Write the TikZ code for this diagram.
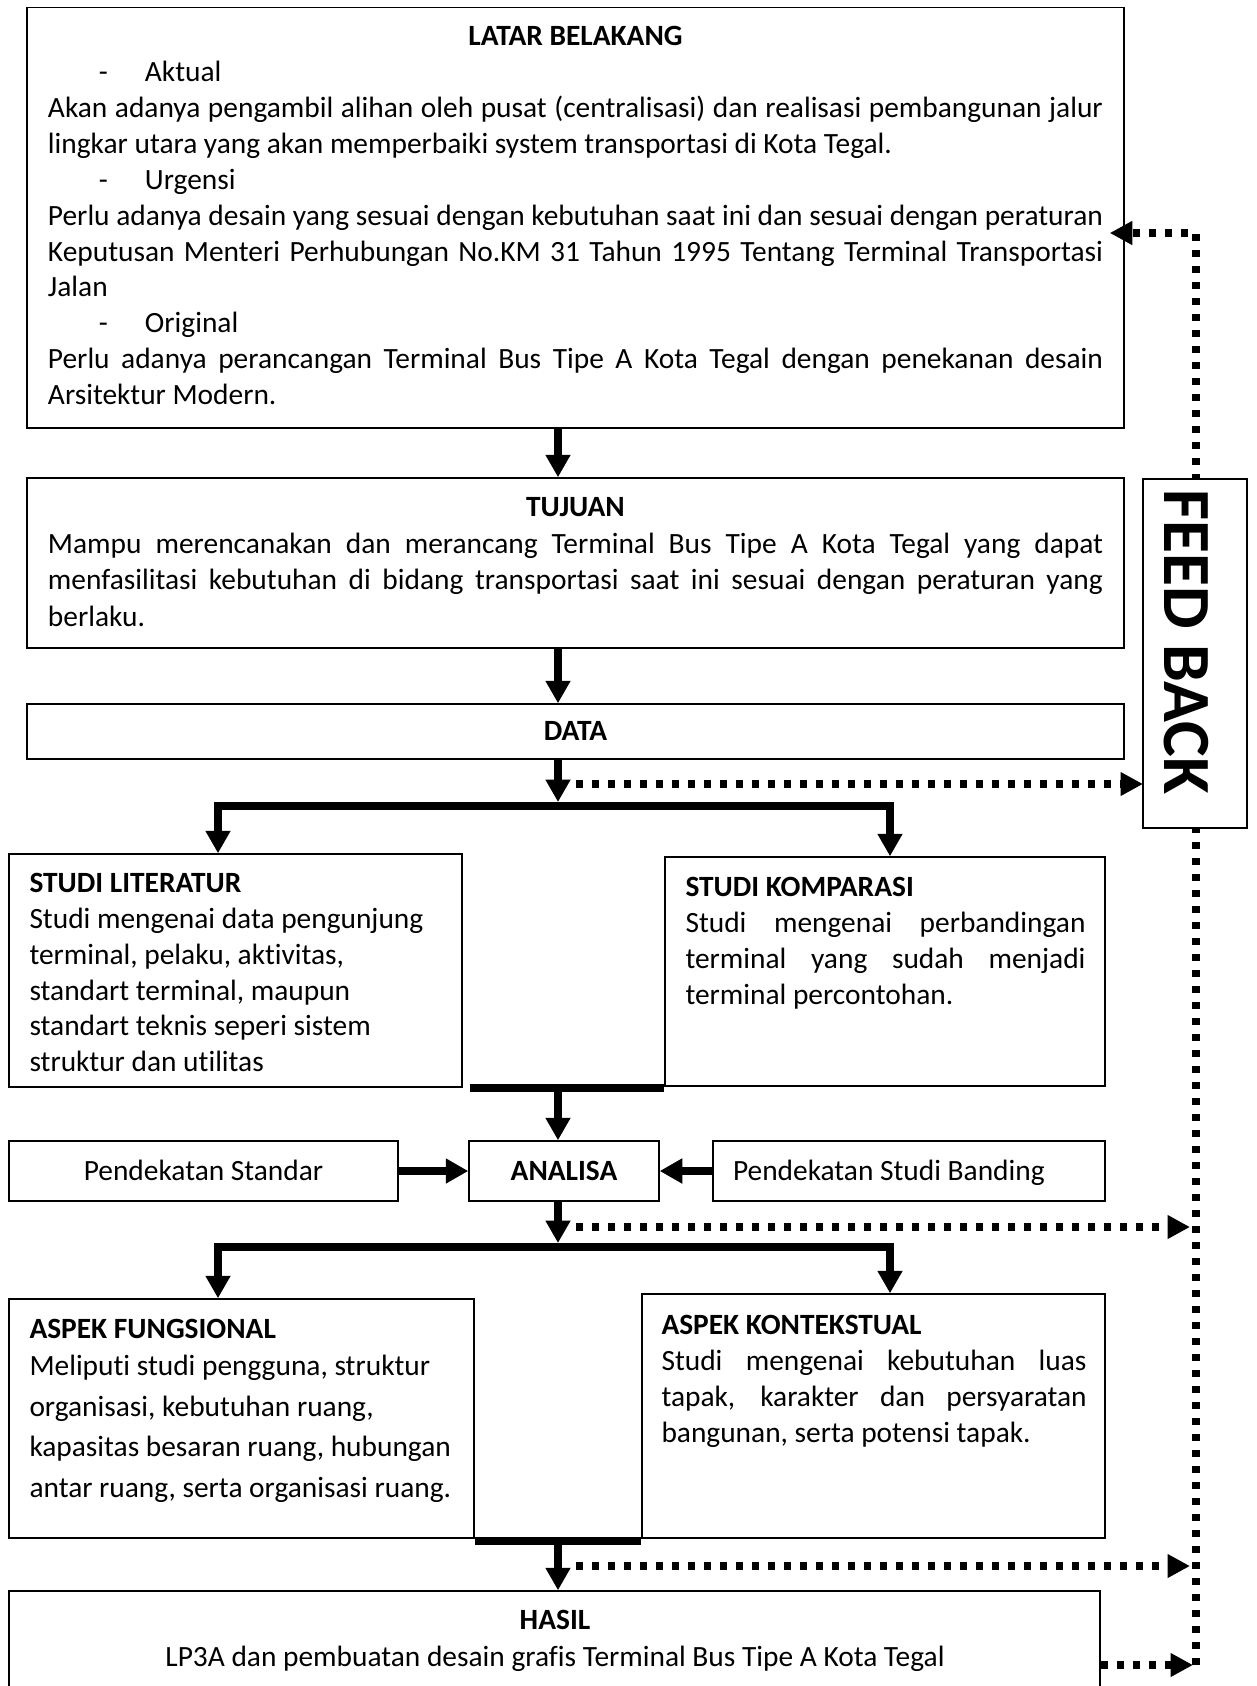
\documentclass[tikz,border=0pt]{standalone}
\usepackage{fontspec}
\setmainfont{Carlito}[Ligatures=NoCommon]
\usetikzlibrary{arrows.meta,fit,calc}

\begin{document}
\begin{tikzpicture}[x=0.4pt, y=-0.4pt,
    font=\fontsize{11.76pt}{14.36pt}\selectfont,
    box/.style={draw, line width=0.6pt, inner sep=0pt},
    onebox/.style={box, text height=9.9pt, text depth=2.5pt},
    txt/.style={inner sep=0pt},
    mainline/.style={line width=3pt},
    mainarrow/.style={line width=3pt, -{Triangle[width=9.5pt, length=9pt]}},
    splitarrow/.style={line width=3pt, {Triangle[width=9.5pt, length=9pt]}-{Triangle[width=9.5pt, length=9pt]}},
    feed/.style={line width=2.9pt, dash pattern=on 2.9pt off 3.5pt, -{Triangle[width=9pt, length=9pt]}}]
  \useasboundingbox (0,0) rectangle (1256,1686);
  \clip (0,0) rectangle (1256,1686);

  % Boxes
  \node[box, fit={(27,7.5) (1124,428)}] (latar) {};
  \node[box, fit={(27,478) (1124,648)}] (tujuan) {};
  \node[onebox, minimum width=438.8pt, minimum height=22pt] (data) at (575.5,731.5) {\bfseries DATA};
  \node[box, fit={(9,854) (462,1087)}] (lit) {};
  \node[box, fit={(665,857) (1105,1086)}] (komp) {};
  \node[onebox, minimum width=155.6pt, minimum height=24pt] (std) at (203.5,1171) {Pendekatan Standar};
  \node[onebox, minimum width=76pt, minimum height=24pt] (analisa) at (564,1171) {\bfseries ANALISA};
  \node[onebox, minimum width=156.8pt, minimum height=24pt] (psb) at (909,1171) {\makebox[140.8pt][l]{Pendekatan Studi Banding}};
  \node[box, fit={(9,1299) (474,1538)}] (fung) {};
  \node[box, fit={(642,1294) (1105,1538)}] (kont) {};
  \node[box, fit={(9,1591) (1100,1720)}] (hasil) {};

  % Texts
  \node[txt, text width=422pt, align=justify] (latartxt) at (575.5,215.6) {\hfill\textbf{LATAR BELAKANG}\hfill\null\\
    \hspace*{20.4pt}\makebox[18.4pt][l]{-}Aktual\\
    Akan adanya pengambil alihan oleh pusat (centralisasi) dan realisasi pembangunan jalur\linebreak lingkar utara yang akan memperbaiki system transportasi di Kota Tegal.\\
    \hspace*{20.4pt}\makebox[18.4pt][l]{-}Urgensi\\
    Perlu adanya desain yang sesuai dengan kebutuhan saat ini dan sesuai dengan peraturan\linebreak Keputusan Menteri Perhubungan No.KM 31 Tahun 1995 Tentang Terminal Transportasi\linebreak Jalan\\
    \hspace*{20.4pt}\makebox[18.4pt][l]{-}Original\\
    Perlu adanya perancangan Terminal Bus Tipe A Kota Tegal dengan penekanan desain\linebreak Arsitektur Modern.};
  \node[txt, text width=422pt, align=justify, font=\fontsize{11.76pt}{14.6pt}\selectfont] (tujuantxt) at (575.5,562.3) {\hfill\textbf{TUJUAN}\hfill\null\\
    Mampu merencanakan dan merancang Terminal Bus Tipe A Kota Tegal yang dapat\linebreak menfasilitasi kebutuhan di bidang transportasi saat ini sesuai dengan peraturan yang\linebreak berlaku.};
  \node[txt, align=left, anchor=west] (littxt) at (29,972.6) {\textbf{STUDI LITERATUR}\\
    Studi mengenai data pengunjung\\ terminal, pelaku, aktivitas,\\ standart terminal, maupun\\ standart teknis seperi sistem\\ struktur dan utilitas};
  \node[txt, text width=160pt, align=justify, anchor=west] (komptxt) at (685,943.5) {\textbf{STUDI KOMPARASI}\\
    Studi mengenai perbandingan\linebreak terminal yang sudah menjadi\linebreak terminal percontohan.};
  \node[txt, align=left, anchor=west, font=\fontsize{11.76pt}{16.35pt}\selectfont] (fungtxt) at (29,1411) {\textbf{ASPEK FUNGSIONAL}\\[-1.7pt]
    Meliputi studi pengguna, struktur\\ organisasi, kebutuhan ruang,\\ kapasitas besaran ruang, hubungan\\ antar ruang, serta organisasi ruang.};
  \node[txt, text width=170pt, align=justify, anchor=west] (konttxt) at (661,1381.7) {\textbf{ASPEK KONTEKSTUAL}\\
    Studi mengenai kebutuhan luas\linebreak tapak, karakter dan persyaratan\linebreak bangunan, serta potensi tapak.};
  \node[txt, align=center] (hasiltxt) at (555,1641) {\textbf{HASIL}\\[0.4pt]
    LP3A dan pembuatan desain grafis Terminal Bus Tipe A Kota Tegal};

  % Main flow
  \coordinate (spine) at (558,0);
  \coordinate (colL) at (218,0);
  \coordinate (colR) at (890,0);
  \coordinate (split1) at (558,806);
  \coordinate (split2) at (558,1247);
  \draw[mainarrow] (latar.south -| spine) -- (tujuan.north -| spine);
  \draw[mainarrow] (tujuan.south -| spine) -- (data.north -| spine);
  \draw[mainarrow] (data.south -| spine) -- ($(split1)+(0,-4)$);
  \draw[splitarrow] (lit.north -| colL) -- (split1 -| colL) -- (split1 -| colR) -- (komp.north -| colR);
  \draw[mainline] ($(lit.south east)+(7,0)$) -- (komp.south west |- lit.south east);
  \draw[mainarrow] (lit.south -| spine) -- (analisa.north -| spine);
  \draw[mainarrow] (std) -- (analisa);
  \draw[mainarrow] (psb) -- (analisa);
  \draw[mainarrow] (analisa.south -| spine) -- ($(split2)+(0,-4)$);
  \draw[splitarrow] (fung.north -| colL) -- (split2 -| colL) -- (split2 -| colR) -- (kont.north -| colR);
  \draw[mainline] ($(fung.south east)+(0,2)$) -- ($(kont.south west)+(0,2)$);
  \draw[mainarrow] (fung.south -| spine) -- (hasil.north -| spine);

  % Feed back
  \coordinate (fbtop) at (1196,233);
  \coordinate (fbbot) at (1196,1665);
  \coordinate (d1) at (576,784);
  \coordinate (d2) at (576,1227);
  \coordinate (d3) at (576,1566);
  \draw[feed] (fbbot) -- (fbtop) -- ($(latar.east |- fbtop)+(-15,0)$);
  \draw[feed] (d1) -- (d1 -| 1143,0);
  \draw[feed] (d2) -- ($(d2 -| fbbot)+(-6,0)$);
  \draw[feed] (d3) -- ($(d3 -| fbbot)+(-6,0)$);
  \draw[feed] (fbbot -| hasil.east) -- ($(fbbot)+(-3,0)$);
  \node[box, fill=white, fit={(1143,479) (1247,828)}] (fb) {};
  \node[txt, rotate=-90, font=\fontsize{27pt}{30pt}\selectfont\bfseries] (fbtxt) at (1186.5,642) {FEED BACK};
\end{tikzpicture}
\end{document}
